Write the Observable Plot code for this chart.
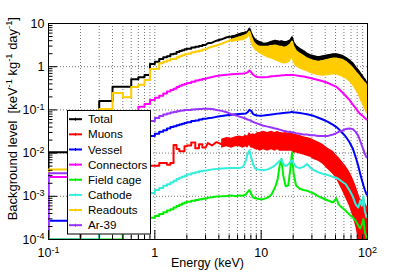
<!DOCTYPE html>
<html>
<head>
<meta charset="utf-8">
<script src="https://cdn.jsdelivr.net/npm/d3@7"></script>
<script src="https://cdn.jsdelivr.net/npm/@observablehq/plot@0.6"></script>
<style>
html,body{margin:0;padding:0;background:#fff;}
#chart{width:399px;height:272px;}
</style>
</head>
<body>
<div id="chart"></div>
<script>
// Bin edges (keV)
const edges = [0.1,0.2,0.3,0.4,0.5,0.6,0.7,0.8,0.9,1.0,
  1.1,1.2,1.3,1.4,1.5,1.6,1.7,1.8,1.9,2.0,
  2.2,2.4,2.6,2.8,3.0,3.3,3.6,4.0,4.5,5.0,
  5.5,6.0,6.5,7.0,7.3,7.6,7.9,8.2,8.6,9.0,
  9.5,10,11,12,13,14,14.6,15.2,15.8,16.5,
  17.5,18.5,19.2,19.8,20.5,22,24,26,28,30,
  33,36,40,45,50,52,55,60,65,70,
  75,80,84,87,90,93,96,100];

const total = [0.0105,0.02,0.16,0.344,0.344,0.51,0.57,0.64,1.15,1.3,
  1.5,1.65,1.75,1.95,2.0,2.2,2.3,2.4,2.55,2.6,
  2.8,2.9,3.0,3.2,3.5,3.6,4.0,4.3,4.8,5.0,
  5.3,5.7,6.0,6.3,6.4,7.6,6.0,4.8,4.2,3.9,
  3.7,3.4,3.5,3.8,4.0,3.9,3.8,3.9,3.8,3.7,
  3.9,4.1,4.8,3.6,3.0,2.6,2.3,2.0,1.85,1.75,
  1.65,1.75,1.85,1.95,1.95,1.9,1.8,1.6,1.4,1.2,
  0.95,0.82,0.7,0.62,0.55,0.5,0.42];

const muons = [1e-4,3e-3,3.5e-3,4e-3,4.2e-3,4.5e-3,4.6e-3,4.8e-3,5.1e-3,5.1e-3,
  5.9e-3,5.9e-3,5.4e-3,5.9e-3,0.0155,0.0125,0.011,0.011,0.0145,0.015,
  0.0175,0.013,0.016,0.0135,0.017,0.015,0.018,0.016,0.019,0.017,
  0.018,0.02,0.018,0.021,0.019,0.024,0.02,0.022,0.02,0.024,
  0.019,0.02,0.019,0.02,0.019,0.02,0.019,0.019,0.018,0.019,
  0.018,0.018,0.019,0.017,0.017,0.016,0.015,0.014,0.013,0.012,
  0.011,0.009,0.0075,0.006,0.005,0.0042,0.0033,0.0024,0.0017,0.0011,
  0.0007,0.00045,0.0003,0.00022,0.00018,0.00015,0.00012];
const muonsLo = [null,null,null,null,null,null,null,null,null,null,
  null,null,null,null,null,null,null,null,null,null,
  null,null,null,null,null,null,null,0.013,0.014,0.013,
  0.014,0.014,0.013,0.014,0.013,0.015,0.013,0.013,0.012,0.012,
  0.011,0.012,0.011,0.012,0.011,0.012,0.011,0.011,0.011,0.011,
  0.011,0.011,0.011,0.01,0.01,0.0095,0.009,0.0085,0.008,0.007,
  0.0065,0.0055,0.0042,0.0032,0.0025,0.002,0.0014,0.0009,0.0006,0.00035,
  0.0002,0.0001,0.0001,0.0001,0.0001,0.0001,0.0001];
const muonsHi = [null,null,null,null,null,null,null,null,null,null,
  null,null,null,null,null,null,null,null,null,null,
  null,null,null,null,null,null,null,0.021,0.023,0.022,
  0.024,0.025,0.024,0.026,0.025,0.03,0.027,0.028,0.027,0.03,
  0.03,0.032,0.03,0.032,0.03,0.032,0.03,0.03,0.029,0.03,
  0.029,0.03,0.03,0.028,0.027,0.026,0.024,0.023,0.022,0.02,
  0.018,0.016,0.013,0.011,0.009,0.008,0.0065,0.005,0.0038,0.0027,
  0.0018,0.0012,0.0009,0.0008,0.0009,0.0008,0.0006];

const vessel = [2.7e-4,1e-3,2.5e-3,4.5e-3,7e-3,0.01,0.014,0.019,0.025,0.028,
  0.031,0.034,0.037,0.04,0.042,0.044,0.046,0.048,0.05,0.052,
  0.055,0.057,0.06,0.062,0.064,0.066,0.069,0.072,0.075,0.077,
  0.079,0.08,0.081,0.082,0.088,0.1,0.095,0.08,0.076,0.074,
  0.073,0.074,0.076,0.078,0.08,0.082,0.083,0.084,0.085,0.086,
  0.087,0.088,0.09,0.088,0.087,0.085,0.082,0.079,0.076,0.072,
  0.066,0.06,0.053,0.045,0.04,0.036,0.03,0.024,0.018,0.013,
  0.008,0.005,0.0033,0.0024,0.0018,0.0014,0.0011];

const connectors = [2.8e-3,0.012,0.03,0.05,0.075,0.093,0.118,0.137,0.17,0.19,
  0.213,0.24,0.265,0.29,0.31,0.34,0.36,0.38,0.4,0.42,
  0.45,0.48,0.5,0.52,0.55,0.58,0.61,0.63,0.65,0.67,
  0.68,0.69,0.7,0.71,0.74,0.82,0.75,0.65,0.6,0.58,
  0.57,0.57,0.58,0.6,0.61,0.62,0.62,0.63,0.63,0.64,
  0.64,0.64,0.65,0.64,0.63,0.61,0.59,0.57,0.55,0.52,
  0.49,0.46,0.42,0.37,0.34,0.31,0.26,0.21,0.17,0.135,
  0.11,0.09,0.08,0.075,0.07,0.065,0.06];

const fieldCage = [1e-4,1e-4,1e-4,1e-4,1.5e-4,1.8e-4,2.2e-4,2.7e-4,3.2e-4,3.5e-4,
  3.9e-4,4.3e-4,4.7e-4,5.0e-4,5.5e-4,6.0e-4,6.4e-4,6.8e-4,7.2e-4,7.5e-4,
  7.9e-4,8.2e-4,8.5e-4,8.8e-4,9.2e-4,9.5e-4,9.9e-4,1.0e-3,1.02e-3,1.05e-3,
  1.0e-3,1.05e-3,1.03e-3,1.1e-3,1.25e-3,1.4e-3,1.15e-3,9.5e-4,9e-4,8.8e-4,
  8.6e-4,8.6e-4,9.3e-4,1.1e-3,1.6e-3,2.5e-3,5.0e-3,7.3e-3,3.0e-3,1.7e-3,
  1.8e-3,4.5e-3,0.0104,3.5e-3,1.8e-3,1.5e-3,1.4e-3,1.35e-3,1.25e-3,1.15e-3,
  1.0e-3,9e-4,8e-4,7.2e-4,9e-4,6.5e-4,5.5e-4,4.6e-4,3.8e-4,3.3e-4,
  2.7e-4,2.1e-4,1.8e-4,2.2e-4,3e-4,1.5e-4,1.1e-4];

const cathode = [1e-4,1e-4,3e-4,4.5e-4,6e-4,7.5e-4,9e-4,1.05e-3,1.2e-3,1.4e-3,
  1.55e-3,1.75e-3,1.9e-3,2.1e-3,2.3e-3,2.5e-3,2.7e-3,2.85e-3,3.0e-3,3.2e-3,
  3.4e-3,3.6e-3,3.8e-3,3.9e-3,4.0e-3,4.2e-3,4.3e-3,4.4e-3,4.45e-3,4.5e-3,
  4.5e-3,4.5e-3,4.8e-3,6.5e-3,9.5e-3,0.0115,8e-3,5.5e-3,4.4e-3,4.2e-3,
  4.1e-3,4.0e-3,4.2e-3,4.6e-3,5.2e-3,6.0e-3,6.6e-3,7.2e-3,5.6e-3,5.0e-3,
  5.5e-3,6.3e-3,6.8e-3,5.8e-3,4.8e-3,4.5e-3,4.8e-3,5.6e-3,4.6e-3,4.0e-3,
  3.6e-3,3.3e-3,3.1e-3,2.8e-3,2.7e-3,2.5e-3,2.2e-3,1.9e-3,1.4e-3,1.0e-3,
  6.5e-4,5.5e-4,8e-4,6e-4,1.0e-3,4.5e-4,3.3e-4];

const readouts = [4.2e-3,0.01,0.105,0.246,0.195,0.34,0.38,0.49,0.88,0.9,
  1.2,1.3,1.4,1.5,1.5,1.65,1.75,1.85,1.95,2.0,
  2.15,2.25,2.35,2.5,2.7,2.9,3.1,3.4,3.8,4.2,
  4.5,4.8,5.1,5.4,5.7,6.5,5.0,3.8,3.3,3.0,
  2.9,2.9,2.9,3.0,3.1,3.0,2.9,2.9,2.8,2.8,
  3.0,3.3,3.8,2.9,2.3,2.0,1.75,1.55,1.45,1.35,
  1.3,1.35,1.45,1.55,1.55,1.5,1.45,1.3,1.1,0.92,
  0.75,0.64,0.55,0.5,0.45,0.42,0.36];
const readoutsLo = [null,null,null,null,null,null,null,null,null,null,
  null,null,null,null,null,null,null,null,null,null,
  null,null,null,null,null,null,null,null,null,3.6,
  3.8,3.9,4.0,4.2,4.5,5.0,3.6,2.8,2.4,2.2,
  2.0,1.8,1.6,1.5,1.4,1.3,1.25,1.2,1.15,1.15,
  1.2,1.3,1.6,1.2,1.0,0.9,0.82,0.76,0.7,0.66,
  0.62,0.6,0.62,0.64,0.64,0.62,0.58,0.52,0.45,0.36,
  0.28,0.22,0.17,0.14,0.12,0.1,0.08];

const ar39 = [3.4e-3,0.01,0.018,0.022,0.026,0.03,0.035,0.042,0.055,0.065,
  0.072,0.078,0.083,0.087,0.09,0.093,0.095,0.097,0.099,0.1,
  0.102,0.104,0.105,0.106,0.106,0.105,0.1,0.095,0.088,0.08,
  0.075,0.07,0.066,0.063,0.06,0.058,0.056,0.053,0.05,0.048,
  0.046,0.043,0.041,0.039,0.037,0.036,0.035,0.034,0.033,0.032,
  0.031,0.031,0.03,0.03,0.029,0.028,0.027,0.027,0.026,0.026,
  0.025,0.025,0.025,0.027,0.029,0.031,0.033,0.036,0.037,0.036,
  0.031,0.025,0.019,0.015,0.012,0.0095,0.008];

const seriesNames = ["Total","Muons","Vessel","Connectors","Field cage","Cathode","Readouts","Ar-39"];
const seriesColors = ["#000000","#ff0000","#0000ff","#ff00ff","#00ee00","#33eedd","#ffcc00","#9933ff"];
const seriesValues = [total, muons, vessel, connectors, fieldCage, cathode, readouts, ar39];

const xMajor = [0.1, 1, 10, 100];
const xLabels = ["10^-1","1","10","10^2"];
const yMajor = [1e-4, 1e-3, 1e-2, 1e-1, 1, 10];
const yLabels = ["10^-4","10^-3","10^-2","10^-1","1","10"];
const mult = [2,3,4,5,6,7,8,9];
const xMinor = xMajor.slice(0,-1).flatMap(d => mult.map(m => +(m*d).toPrecision(3)));
const yMinor = yMajor.slice(0,-1).flatMap(d => mult.map(m => +(m*d).toPrecision(3)));
const xGrid = [...xMinor, 1, 10];
const yGrid = [1e-3, 1e-2, 1e-1, 1];

const stepUntil = 3.0;
function histPoints(vals) {
  const p = [{x: edges[0], y: yMajor[0]}];
  vals.forEach((v, i) => {
    const a = edges[i], b = edges[i+1];
    if (b <= stepUntil) p.push({x: a, y: v}, {x: b, y: v});
    else p.push({x: (a + b) / 2, y: v});
  });
  p.push({x: edges[edges.length-1], y: vals[vals.length-1]});
  return p;
}
function bandPoints(mask, lo, hi) {
  const p = [];
  mask.forEach((m, i) => {
    if (m != null) p.push({x: (edges[i] + edges[i+1]) / 2, y1: lo[i], y2: hi[i]});
  });
  const last = lo.length - 1;
  p.push({x: edges[last+1], y1: lo[last], y2: hi[last]});
  return p;
}

const lw = 2;
const lineMark = (k) => Plot.line(histPoints(seriesValues[k]), {x: "x", y: "y", stroke: seriesColors[k], strokeWidth: lw, clip: true});
const bandMark = (mask, lo, hi, k, op = 1) => Plot.areaY(bandPoints(mask, lo, hi), {x: "x", y1: "y1", y2: "y2", fill: seriesColors[k], fillOpacity: op, clip: true});

const gridStyle = {stroke: "#000", strokeOpacity: 0.55, strokeDasharray: "1,2", strokeWidth: 1};

const chart = Plot.plot({
  width: 399, height: 272,
  marginLeft: 48, marginRight: 32, marginTop: 23, marginBottom: 33,
  x: {type: "log", domain: [0.1, 100]},
  y: {type: "log", domain: [1e-4, 10]},
  style: {fontFamily: "'Liberation Sans', Arial, Helvetica, sans-serif", fontSize: "12.5px", background: "#fff", color: "#000", overflow: "visible"},
  marks: [
    Plot.ruleX(xGrid, gridStyle),
    Plot.ruleY(yGrid, gridStyle),
    Plot.frame({stroke: "#000", strokeWidth: 1}),
    bandMark(readoutsLo, readouts, total, 0),
    lineMark(0),
    bandMark(muonsLo, muonsLo, muonsHi, 1),
    lineMark(1),
    lineMark(2),
    lineMark(3),
    lineMark(4),
    lineMark(5),
    bandMark(readoutsLo, readoutsLo, readouts, 6),
    lineMark(6),
    lineMark(7),
    Plot.axisY({ticks: yMinor, tickSize: 4.5, dx: 4.5, tickFormat: () => "", label: null}),
    Plot.axisY({ticks: yMajor, tickSize: 9, dx: 9, tickFormat: () => "", label: null}),
    Plot.axisY({ticks: yMajor, tickSize: 0, tickPadding: 4, tickFormat: d => yLabels[yMajor.indexOf(d)], label: null}),
    Plot.axisX({ticks: xMinor, tickSize: 4.5, dy: -4.5, tickFormat: () => "", label: null}),
    Plot.axisX({ticks: xMajor, tickSize: 9, dy: -9, tickFormat: () => "", label: null}),
    Plot.axisX({ticks: xMajor, tickSize: 0, tickPadding: 9, tickFormat: d => xLabels[xMajor.indexOf(d)], label: null})
  ]
});

document.getElementById("chart").appendChild(chart);

const svg = d3.select(chart);
// superscripts in tick labels
svg.selectAll("text").each(function() {
  const s = this.textContent;
  const m = s.match(/^10\^(.+)$/);
  if (m) {
    this.textContent = "10";
    d3.select(this).append("tspan").attr("dy", "-0.45em").attr("font-size", "72%").text(m[1]);
  }
});

const font = "'Liberation Sans', Arial, Helvetica, sans-serif";
// Y title
const yt = svg.append("text")
  .attr("transform", "translate(17,17) rotate(-90)")
  .attr("text-anchor", "end")
  .attr("font-family", font).attr("font-size", 13).attr("fill", "#000")
  .style("white-space", "pre");
const ytParts = [["Background level  [keV", false], ["-1", true], [" kg", false], ["-1", true], [" day", false], ["-1", true], ["]", false]];
ytParts.forEach(([t, sup], i) => {
  const ts = yt.append("tspan").text(t);
  if (sup) ts.attr("dy", -5).attr("font-size", 9.3);
  else if (i > 0) ts.attr("dy", 5);
});
// X title
svg.append("text").attr("x", 207.5).attr("y", 267).attr("text-anchor", "middle")
  .attr("font-family", font).attr("font-size", 12.5).attr("fill", "#000").text("Energy (keV)");

// Legend
const lg = svg.append("g").attr("text-anchor", "start");
lg.append("rect").attr("x", 67.5).attr("y", 110.5).attr("width", 83).attr("height", 123.5)
  .attr("fill", "#fff").attr("stroke", "#000").attr("stroke-width", 1);
seriesNames.forEach((name, i) => {
  const base = 123.3 + i * 15.14;
  const cy = base - 4.1;
  lg.append("line").attr("x1", 69).attr("x2", 82).attr("y1", cy).attr("y2", cy)
    .attr("stroke", seriesColors[i]).attr("stroke-width", lw);
  lg.append("line").attr("x1", 75.5).attr("x2", 75.5).attr("y1", cy - 1.5).attr("y2", cy + 1.5)
    .attr("stroke", seriesColors[i]).attr("stroke-width", 1);
  lg.append("text").attr("x", 88).attr("y", base).attr("text-anchor", "start")
    .attr("font-family", font).attr("font-size", 11.6)
    .attr("fill", "#000").text(name);
});
</script>
</body>
</html>
